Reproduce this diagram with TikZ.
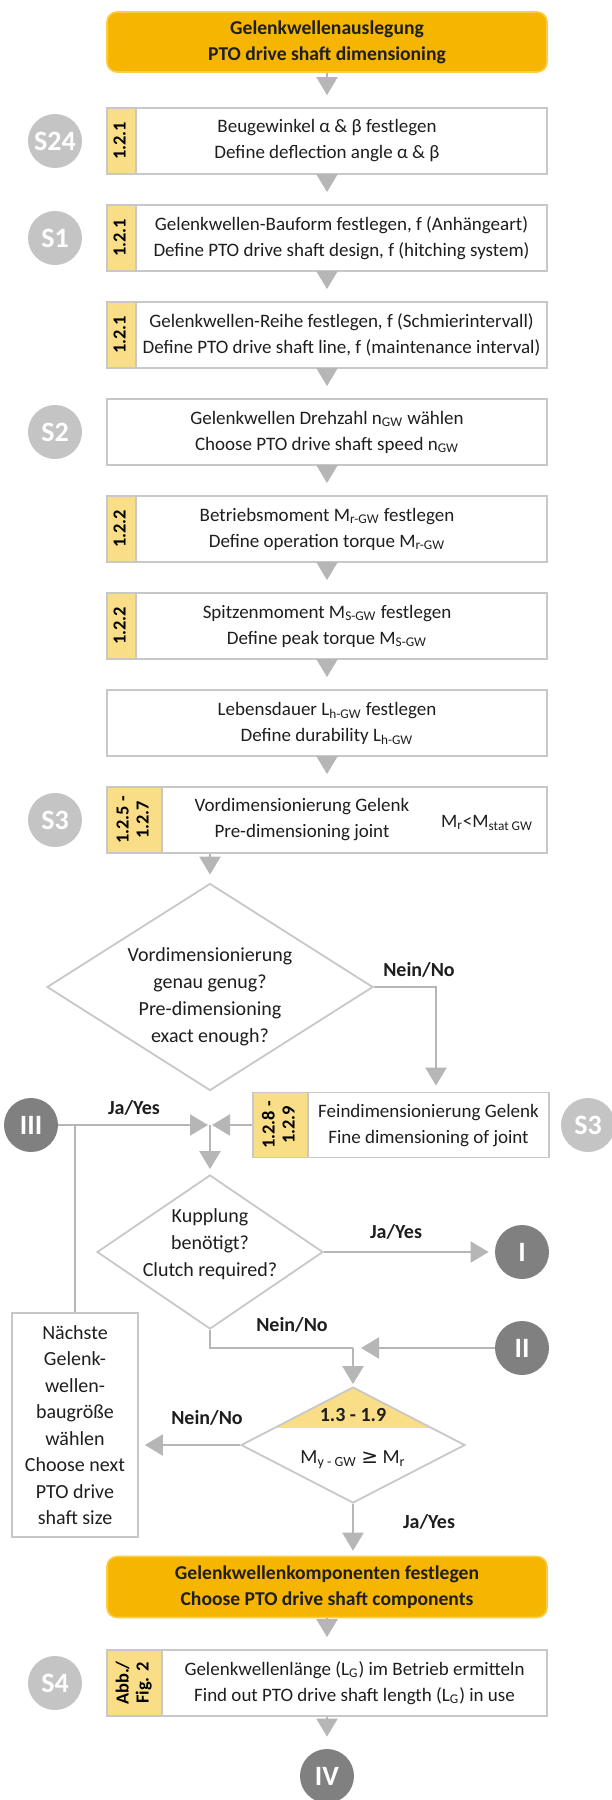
\documentclass[tikz,border=0pt]{standalone}
\usepackage{fontspec}
\setmainfont{Carlito}
\newfontfamily\geqfont{DejaVu Sans}
\usetikzlibrary{arrows.meta, positioning, calc, shapes.geometric}

\definecolor{ptoorange}{RGB}{246,181,0}
\definecolor{ptoedge}{RGB}{250,205,70}
\definecolor{ptotag}{RGB}{249,222,135}
\definecolor{ptoframe}{RGB}{200,200,200}
\definecolor{ptoline}{RGB}{182,182,182}
\definecolor{ptolight}{RGB}{196,196,196}
\definecolor{ptodark}{RGB}{128,128,128}
\definecolor{ptotext}{RGB}{30,30,30}

% box text that leaves room for the tag strip on the left
\newcommand{\tagtext}[3]{\makebox[#1]{}\makebox[\dimexpr#2-#1\relax]{\begin{tabular}{@{}c@{}}#3\end{tabular}}}
\newcommand{\tagnum}[1]{\rotatebox{90}{\begin{tabular}{@{}c@{}}#1\end{tabular}}}

\begin{document}
\begin{tikzpicture}[x=0.5pt, y=-0.5pt,
  box/.style={draw=ptoframe, line width=0.9pt, fill=white, minimum width=220pt, minimum height=33pt, inner xsep=4pt, inner ysep=0pt, align=center, text=ptotext, font=\fontsize{9.5}{13}\selectfont},
  headbox/.style={rounded corners=5pt, fill=ptoorange, draw=ptoedge, line width=0.8pt, minimum width=220pt, minimum height=30pt, align=center, text=ptotext, font=\bfseries\fontsize{9.8}{13}\selectfont},
  tagbox/.style={anchor=north west, fill=ptotag, draw=ptoframe, line width=0.9pt, inner sep=0pt, minimum height=33pt, font=\bfseries\fontsize{9.2}{10}\selectfont},
  ask/.style={diamond, draw=ptoframe, line width=0.9pt, fill=white, inner sep=0pt},
  asktext/.style={align=center, text=ptotext, font=\fontsize{10}{13.5}\selectfont},
  stepmark/.style={circle, fill=ptolight, text=white, minimum size=27pt, inner sep=0pt, font=\bfseries\fontsize{14}{14}\selectfont},
  jumpmark/.style={stepmark, fill=ptodark},
  answer/.style={text=ptotext, font=\bfseries\fontsize{10}{12}\selectfont},
  link/.style={draw=ptoline, line width=1.1pt},
  flow/.style={link, -{Triangle[width=10.5pt, length=9pt]}, ptoline}]
\useasboundingbox (0,0) rectangle (611,1800);
\fill[white] (0,0) rectangle (611,1800);

% start
\node[headbox] (head) at (327,42) {Gelenkwellenauslegung\\PTO drive shaft dimensioning};

% steps
\node[box] (b1) at (327,141) {Beugewinkel α \& β festlegen\\Define deflection angle α \& β};
\node[box] (b2) at (327,238) {\tagtext{14.5pt}{212pt}{Gelenkwellen-Bauform festlegen, f (Anhängeart)\\Define PTO drive shaft design, f (hitching system)}};
\node[box] (b3) at (327,335) {\tagtext{14.5pt}{212pt}{Gelenkwellen-Reihe festlegen, f (Schmierintervall)\\Define PTO drive shaft line, f (maintenance interval)}};
\node[box] (b4) at (327,432) {Gelenkwellen Drehzahl n\textsubscript{GW} wählen\\Choose PTO drive shaft speed n\textsubscript{GW}};
\node[box] (b5) at (327,529) {Betriebsmoment M\textsubscript{r-GW} festlegen\\Define operation torque M\textsubscript{r-GW}};
\node[box] (b6) at (327,626) {Spitzenmoment M\textsubscript{S-GW} festlegen\\Define peak torque M\textsubscript{S-GW}};
\node[box] (b7) at (327,723) {Lebensdauer L\textsubscript{h-GW} festlegen\\Define durability L\textsubscript{h-GW}};
\node[box] (b8) at (327,820) {};
\node[asktext, font=\fontsize{9.5}{13}\selectfont] (b8t) at (302,820) {Vordimensionierung Gelenk\\Pre-dimensioning joint};
\node[text=ptotext, font=\fontsize{9.5}{13}\selectfont] (b8m) at (487,823) {M\textsubscript{r}<M\textsubscript{stat GW}};

% tag strips
\foreach \b/\n in {b1/1.2.1, b2/1.2.1, b3/1.2.1, b5/1.2.2, b6/1.2.2}
  \node[tagbox, minimum width=14.5pt] (t\b) at (\b.north west) {\tagnum{\n}};
\node[tagbox, minimum width=27.5pt] (tb8) at (b8.north west) {\tagnum{1.2.5 -\\1.2.7}};

% step marks
\node[stepmark] (s24) at (55,141) {S24};
\node[stepmark] (s1) at (55,238) {S1};
\node[stepmark] (s2) at (55,432) {S2};
\node[stepmark] (s3) at (55,820) {S3};

% first question
\node[ask, minimum width=163pt, minimum height=103.5pt] (d1) at (210,987) {};
\node[asktext] (d1t) at (210,997) {Vordimensionierung\\genau genug?\\Pre-dimensioning\\exact enough?};
\draw[flow, shorten >=4pt] (b8.south -| d1.north) -- (d1.north);

% fine dimensioning
\node[box, minimum width=148pt, minimum height=32.5pt] (fb) at (401,1125) {\tagtext{27.5pt}{140pt}{Feindimensionierung Gelenk\\Fine dimensioning of joint}};
\node[tagbox, minimum width=27.5pt, minimum height=32.5pt] (tfb) at (fb.north west) {\tagnum{1.2.8 -\\1.2.9}};
\node[stepmark] (s3b) at (588,1125) {S3};
\draw[flow, shorten >=3pt] (d1.east) -| ([xshift=17.5pt]fb.north);
\node[answer] (no1) at (419,970) {Nein/No};

% join
\coordinate (j) at (210,1125);
\node[jumpmark] (m3) at (31,1125) {III};
\draw[flow, shorten >=1pt] (m3) -- (j);
\draw[flow, shorten >=1pt] (fb) -- (j);
\node[answer] (yes1) at (134,1108) {Ja/Yes};

% clutch question
\node[ask, minimum width=113pt, minimum height=77pt] (d2) at (210,1252) {};
\node[asktext] (d2t) at (210,1244) {Kupplung\\benötigt?\\Clutch required?};
\draw[flow, shorten >=2.5pt] (j) -- (d2);
\node[jumpmark] (m1) at (522,1252) {I};
\draw[flow, shorten >=3pt] (d2) -- (m1);
\node[answer] (yes2) at (396,1232) {Ja/Yes};

\coordinate (k) at (353,1348);
\draw[link] (d2.south) |- (k);
\node[jumpmark] (m2) at (522,1348) {II};
\draw[flow, shorten >=4pt] (m2) -- (k);
\node[answer] (no2) at (292,1325) {Nein/No};

% torque check
\node[ask, minimum width=112pt, minimum height=58pt,
  path picture={\fill[ptotag] (path picture bounding box.north west) rectangle ([yshift=-20.5pt]path picture bounding box.north east);}] (d3) at (353,1445) {};
\node[answer] (d3n) at (353,1415) {1.3 - 1.9};
\node[asktext] (d3f) at (353,1460) {M\textsubscript{y - GW} {\geqfont ≥} M\textsubscript{r}};
\draw[flow, shorten >=1pt] (k) -- (d3);

% next size
\node[box, minimum width=63pt, minimum height=112pt, inner xsep=2pt, font=\fontsize{10}{13.25}\selectfont] (nb) at (75,1425) {Nächste\\Gelenk-\\wellen-\\baugröße\\wählen\\Choose next\\PTO drive\\shaft size};
\draw[flow, shorten >=3pt] (d3.west) -- (d3.west -| nb.east);
\node[answer] (no3) at (207,1418) {Nein/No};
\draw[link] (nb) -- (nb |- j);

% components
\node[headbox, minimum height=30.5pt] (ob) at (327,1587) {Gelenkwellenkomponenten festlegen\\Choose PTO drive shaft components};
\draw[flow, shorten >=2.5pt] (d3.south) -- (d3.south |- ob.north);
\node[answer] (yes3) at (429,1522) {Ja/Yes};

\node[box] (b9) at (327,1683) {\tagtext{27.5pt}{212pt}{Gelenkwellenlänge (L\textsubscript{G}) im Betrieb ermitteln\\Find out PTO drive shaft length (L\textsubscript{G}) in use}};
\node[tagbox, minimum width=27.5pt] (tb9) at (b9.north west) {\tagnum{Abb./\\Fig. 2}};
\node[stepmark] (s4) at (55,1683) {S4};
\node[jumpmark] (m4) at (327,1776) {IV};

% straight arrows
\foreach \a/\b in {head/b1, b1/b2, b2/b3, b3/b4, b4/b5, b5/b6, b6/b7, b7/b8, ob/b9, b9/m4}
  \draw[flow, shorten >=6pt] (\a) -- (\b);
\end{tikzpicture}
\end{document}
